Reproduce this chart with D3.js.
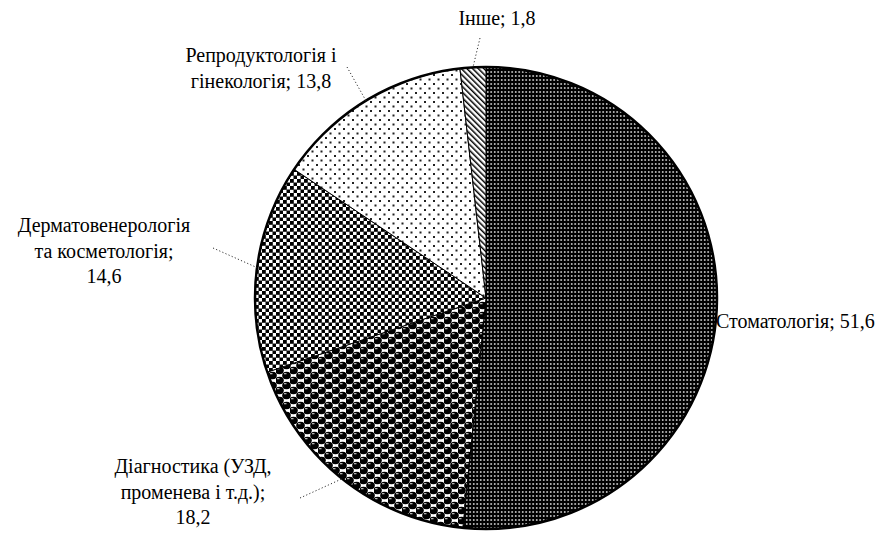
<!DOCTYPE html>
<html>
<head>
<meta charset="utf-8">
<script src="https://cdn.jsdelivr.net/npm/d3@7"></script>
<style>
  html, body { margin: 0; padding: 0; background: #fff; }
  svg { display: block; }
</style>
</head>
<body>
<svg id="chart" width="889" height="533"></svg>
<script>
// ---- data ----
const categories = ["Стоматологія", "Діагностика (УЗД, променева і т.д.)", "Дерматовенерологія та косметологія", "Репродуктологія і гінекологія", "Інше"];
const values = [51.6, 18.2, 14.6, 13.8, 1.8];
const valueLabels = ["51,6", "18,2", "14,6", "13,8", "1,8"];
const labelLines = [
  ["Стоматологія; 51,6"],
  ["Діагностика (УЗД,", "променева і т.д.);", "18,2"],
  ["Дерматовенерологія", "та косметологія;", "14,6"],
  ["Репродуктологія і", "гінекологія; 13,8"],
  ["Інше; 1,8"]
];

// ---- layout ----
const W = 889, H = 533;
const cx = 486, cy = 298, R = 231;
const labelPos = [
  {x: 716, y: 328, anchor: "start", lead: null},
  {x: 193, y: 473, anchor: "middle", lead: [300, 498]},
  {x: 104, y: 232, anchor: "middle", lead: [213, 248]},
  {x: 261, y: 62, anchor: "middle", lead: [347, 67]},
  {x: 497, y: 25, anchor: "middle", lead: [480, 38]}
];
const lineH = 25.5;
const FONT = "'Liberation Serif', 'Times New Roman', Tinos, 'Noto Serif', 'DejaVu Serif', serif";

const svg = d3.select("#chart");
const defs = svg.append("defs");

// pattern: Стоматологія — black with small white dots
let p = defs.append("pattern").attr("id", "p0").attr("patternUnits", "userSpaceOnUse")
  .attr("width", 3.5).attr("height", 4);
p.append("rect").attr("width", 3.5).attr("height", 4).attr("fill", "#000");
p.append("rect").attr("x", 1).attr("y", 1.2).attr("width", 1.4).attr("height", 1.6).attr("fill", "#fff");

// pattern: Діагностика — black spheres in a checker arrangement
p = defs.append("pattern").attr("id", "p1").attr("patternUnits", "userSpaceOnUse")
  .attr("width", 14).attr("height", 10);
p.append("rect").attr("width", 14).attr("height", 10).attr("fill", "#fff");
[[3.5, 2.5], [10.5, 7.5], [10.5, -2.5], [-3.5, 7.5], [17.5, 7.5], [3.5, 12.5]].forEach(([x, y]) => {
  p.append("ellipse").attr("cx", x).attr("cy", y).attr("rx", 4.3).attr("ry", 3.7).attr("fill", "#000");
  p.append("rect").attr("x", x - 2.5).attr("y", y - 2.2).attr("width", 2.5).attr("height", 0.9).attr("fill", "#fff");
});

// pattern: Дерматовенерологія — checkerboard
p = defs.append("pattern").attr("id", "p2").attr("patternUnits", "userSpaceOnUse")
  .attr("width", 7).attr("height", 7);
p.append("rect").attr("width", 7).attr("height", 7).attr("fill", "#fff");
p.append("rect").attr("x", 0).attr("y", 0).attr("width", 3.8).attr("height", 3.8).attr("fill", "#000");
p.append("rect").attr("x", 3.5).attr("y", 3.5).attr("width", 3.8).attr("height", 3.8).attr("fill", "#000");

// pattern: Репродуктологія — sparse dots
p = defs.append("pattern").attr("id", "p3").attr("patternUnits", "userSpaceOnUse")
  .attr("width", 9).attr("height", 9);
p.append("rect").attr("width", 9).attr("height", 9).attr("fill", "#fff");
p.append("rect").attr("x", 1).attr("y", 1).attr("width", 2).attr("height", 2).attr("fill", "#222");
p.append("rect").attr("x", 5.5).attr("y", 5.5).attr("width", 2).attr("height", 2).attr("fill", "#222");

// pattern: Інше — diagonal stripes "\"
p = defs.append("pattern").attr("id", "p4").attr("patternUnits", "userSpaceOnUse")
  .attr("width", 4).attr("height", 4).attr("patternTransform", "rotate(-45)");
p.append("rect").attr("width", 4).attr("height", 4).attr("fill", "#fff");
p.append("rect").attr("x", 0).attr("y", 0).attr("width", 1.5).attr("height", 4).attr("fill", "#000");

const pie = d3.pie().sort(null).value(d => d)(values);
const arc = d3.arc().innerRadius(0).outerRadius(R);

const g = svg.append("g").attr("transform", `translate(${cx},${cy})`);
g.selectAll("path.slice").data(pie).join("path")
  .attr("class", "slice")
  .attr("d", arc)
  .attr("fill", (d, i) => `url(#p${i})`)
  .attr("stroke", "#000").attr("stroke-width", 1);

g.append("circle").attr("r", R).attr("fill", "none").attr("stroke", "#000").attr("stroke-width", 2.5);

// leader lines
pie.forEach((d, i) => {
  const lp = labelPos[i];
  if (!lp.lead) return;
  const a = (d.startAngle + d.endAngle) / 2;
  const ex = cx + R * Math.sin(a), ey = cy - R * Math.cos(a);
  svg.append("line")
    .attr("x1", lp.lead[0]).attr("y1", lp.lead[1]).attr("x2", ex).attr("y2", ey)
    .attr("stroke", "#333").attr("stroke-width", 1).attr("stroke-dasharray", "1.2,2.2");
});

// labels
labelLines.forEach((lines, i) => {
  const lp = labelPos[i];
  const t = svg.append("text")
    .attr("text-anchor", lp.anchor)
    .attr("font-family", FONT)
    .attr("font-size", 20)
    .attr("fill", "#000");
  lines.forEach((s, j) => {
    t.append("tspan").attr("x", lp.x).attr("y", lp.y + j * lineH).text(s);
  });
});
</script>
</body>
</html>
